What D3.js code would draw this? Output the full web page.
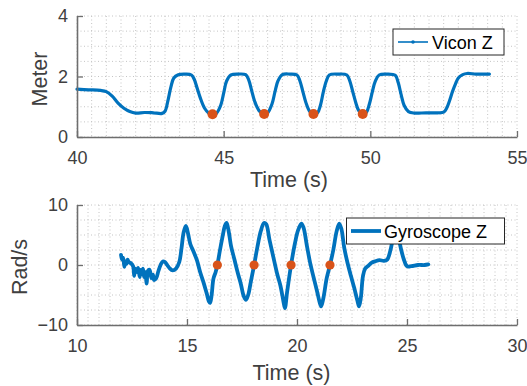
<!DOCTYPE html>
<html>
<head>
<meta charset="utf-8">
<script src="https://cdn.jsdelivr.net/npm/d3@7"></script>
<style>
  html, body { margin: 0; padding: 0; background: #fff; }
  svg { display: block; }
  text { font-family: "Liberation Sans", Arial, Helvetica, sans-serif; }
</style>
</head>
<body>
<svg id="chart" width="527" height="386"></svg>
<script>
// ---------- Top panel data: Vicon Z ----------
const viconTime = [40.0,40.4,40.8,41.0,41.2,41.4,41.6,41.8,42.0,42.3,42.6,42.9,43.0,43.1,43.2,43.3,43.45,43.7,43.9,44.0,44.1,44.2,44.35,44.5,44.62,44.75,44.9,45.0,45.1,45.25,45.5,45.75,45.85,45.95,46.05,46.2,46.38,46.5,46.65,46.75,46.85,47.0,47.25,47.5,47.6,47.7,47.8,47.93,48.06,48.2,48.3,48.4,48.5,48.6,48.9,49.2,49.3,49.4,49.5,49.6,49.74,49.87,49.97,50.07,50.17,50.3,50.55,50.85,50.95,51.05,51.15,51.3,51.5,51.9,52.3,52.5,52.6,52.7,52.8,52.9,53.0,53.15,53.3,53.6,54.06];
const viconZ    = [1.58,1.56,1.54,1.50,1.35,1.12,0.95,0.84,0.79,0.81,0.80,0.78,0.85,1.20,1.65,1.95,2.06,2.08,2.05,1.90,1.60,1.30,0.95,0.78,0.74,0.78,1.05,1.45,1.85,2.05,2.08,2.06,1.90,1.55,1.20,0.88,0.75,0.80,1.10,1.50,1.85,2.06,2.08,2.05,1.85,1.50,1.15,0.85,0.75,0.80,1.05,1.50,1.85,2.05,2.08,2.05,1.85,1.50,1.15,0.88,0.75,0.82,1.10,1.50,1.85,2.05,2.08,2.04,1.80,1.40,1.05,0.84,0.79,0.80,0.80,0.82,0.95,1.20,1.50,1.75,1.95,2.06,2.10,2.08,2.08];
const viconMarkTime = [44.62, 46.38, 48.06, 49.74];
const viconMarkZ    = [0.75, 0.76, 0.76, 0.76];
const topXTicks = [40, 45, 50, 55];
const topYTicks = [0, 2, 4];

// ---------- Bottom panel data: Gyroscope Z ----------
const gyroTime = [12.0,12.05,12.1,12.15,12.2,12.25,12.3,12.35,12.45,12.55,12.6,12.65,12.72,12.78,12.85,12.9,12.95,13.0,13.05,13.1,13.17,13.22,13.3,13.38,13.45,13.5,13.6,13.7,13.8,13.9,14.0,14.1,14.2,14.35,14.5,14.65,14.75,14.85,14.95,15.05,15.15,15.3,15.45,15.6,15.75,15.9,16.0,16.05,16.12,16.2,16.3,16.38,16.5,16.62,16.72,16.8,16.9,17.0,17.15,17.3,17.45,17.58,17.68,17.78,17.9,18.05,18.2,18.35,18.5,18.6,18.75,18.92,19.1,19.25,19.38,19.45,19.55,19.73,19.9,20.05,20.2,20.3,20.45,20.6,20.75,20.9,21.05,21.1,21.2,21.35,21.5,21.65,21.8,21.92,22.02,22.15,22.3,22.45,22.6,22.75,22.82,22.9,23.0,23.1,23.25,23.4,23.55,23.75,23.95,24.1,24.25,24.4,24.5,24.6,24.72,24.85,25.0,25.2,25.5,25.8,25.97];
const gyroZ    = [1.7,0.9,1.2,-0.3,0.6,0.2,0.9,0.5,0.3,-0.2,-1.8,-0.6,-1.2,-0.5,-2.0,-0.8,-1.5,-0.6,-2.0,-1.2,-3.1,-1.0,-0.8,-2.2,-1.6,-2.5,-2.2,-1.0,0.0,0.6,0.5,0.0,-0.5,-0.9,-0.6,0.5,2.8,5.5,6.5,5.2,3.5,2.2,0.8,-1.2,-2.9,-4.8,-6.1,-6.3,-5.0,-2.3,-1.2,0.0,2.5,4.8,6.5,7.0,5.5,3.2,1.0,-1.2,-3.2,-5.2,-5.8,-5.0,-2.8,0.0,3.0,5.6,7.0,6.8,4.2,1.4,-1.5,-3.5,-6.0,-7.2,-4.5,0.0,3.5,5.8,6.9,6.2,3.2,0.3,-2.0,-4.2,-6.5,-6.9,-5.5,-2.2,0.0,2.5,5.6,6.9,6.0,2.8,0.3,-1.8,-3.8,-6.0,-6.9,-5.5,-1.8,-0.6,-0.1,0.4,0.6,0.8,0.7,0.9,2.5,5.0,5.8,4.8,2.8,1.0,-0.2,-0.2,0.0,0.0,0.1];
const gyroMarkTime = [16.38, 18.05, 19.73, 21.5];
const gyroMarkZ    = [0, 0, 0, 0];
const botXTicks = [10, 15, 20, 25, 30];
const botYTicks = [-10, 0, 10];

const BLUE = "#0072BD", ORANGE = "#D95319";
const svg = d3.select("#chart");

function panel(cfg) {
  const x = d3.scaleLinear().domain(cfg.xDomain).range([77, 517]);
  const y = d3.scaleLinear().domain(cfg.yDomain).range([cfg.bottom, cfg.top]);
  const g = svg.append("g");

  // grid (minor + major, dotted)
  const gx = d3.range(cfg.xDomain[0], cfg.xDomain[1] + 1e-9, cfg.xMinor);
  const gy = d3.range(cfg.yDomain[0], cfg.yDomain[1] + 1e-9, cfg.yMinor);
  g.append("g").selectAll("line").data(gx).join("line")
    .attr("x1", d => x(d)).attr("x2", d => x(d))
    .attr("y1", cfg.top).attr("y2", cfg.bottom)
    .attr("stroke", "#c4c4c4").attr("stroke-width", 1)
    .attr("stroke-dasharray", "1,2.5");
  g.append("g").selectAll("line").data(gy).join("line")
    .attr("x1", 77).attr("x2", 517)
    .attr("y1", d => y(d)).attr("y2", d => y(d))
    .attr("stroke", "#c4c4c4").attr("stroke-width", 1)
    .attr("stroke-dasharray", "1,2.5");

  // data line
  const pts = cfg.t.map((d, i) => [d, cfg.v[i]]);
  g.append("path").datum(pts)
    .attr("fill", "none").attr("stroke", BLUE)
    .attr("stroke-width", cfg.lw).attr("stroke-linejoin", "round").attr("stroke-linecap", "round")
    .attr("d", d3.line().x(d => x(d[0])).y(d => y(d[1])).curve(cfg.curve));

  // markers
  g.append("g").selectAll("circle").data(cfg.mt.map((d, i) => [d, cfg.mv[i]])).join("circle")
    .attr("cx", d => x(d[0])).attr("cy", d => y(d[1])).attr("r", cfg.mr)
    .attr("fill", ORANGE);

  // axes
  const fmt = d3.format("d");
  const xAxis = d3.axisBottom(x).tickValues(cfg.xTicks).tickFormat(fmt).tickSize(-6).tickPadding(14).tickSizeOuter(0);
  const ax = g.append("g").attr("transform", `translate(0,${cfg.bottom})`).call(xAxis);
  const yAxis = d3.axisLeft(y).tickValues(cfg.yTicks).tickFormat(fmt).tickSize(-6).tickPadding(9).tickSizeOuter(0);
  const ay = g.append("g").attr("transform", `translate(77,0)`).call(yAxis);
  [ax, ay].forEach(a => {
    a.select(".domain").attr("stroke", "#6e6e6e").attr("stroke-width", 1.6);
    a.selectAll(".tick line").attr("stroke", "#6e6e6e").attr("stroke-width", 1.3);
    a.selectAll(".tick text").attr("fill", "#404040").attr("font-size", 18)
      .attr("font-family", '"Liberation Sans", Arial, sans-serif');
  });
  ax.selectAll(".tick text").attr("dy", "0.71em");

  // labels
  g.append("text").attr("x", cfg.xlabX).attr("y", cfg.xlabY)
    .attr("text-anchor", "middle").attr("font-size", 21.5).attr("fill", "#404040")
    .text("Time (s)");
  g.append("text").attr("transform", `translate(${cfg.ylabX},${cfg.ylabY}) rotate(-90)`)
    .attr("text-anchor", "middle").attr("font-size", 21.5).attr("fill", "#404040")
    .text(cfg.ylab);

  // legend
  const L = cfg.legend;
  const lg = g.append("g");
  lg.append("rect").attr("x", L.x0).attr("y", L.y0).attr("width", L.x1 - L.x0).attr("height", L.y1 - L.y0)
    .attr("fill", "#fff").attr("stroke", "#262626").attr("stroke-width", 1);
  const ly = (L.y0 + L.y1) / 2;
  lg.append("line").attr("x1", L.lx0).attr("x2", L.lx1).attr("y1", ly).attr("y2", ly)
    .attr("stroke", BLUE).attr("stroke-width", L.lw);
  if (L.dot) lg.append("circle").attr("cx", (L.lx0 + L.lx1) / 2).attr("cy", ly).attr("r", 1.8).attr("fill", BLUE);
  lg.append("text").attr("x", L.tx).attr("y", ly + 6.5).attr("font-size", 18).attr("fill", "#000")
    .text(L.label);
}

panel({
  xDomain: [40, 55], yDomain: [0, 4], top: 16, bottom: 137,
  xMinor: 0.5, yMinor: 0.5, xTicks: topXTicks, yTicks: topYTicks,
  t: viconTime, v: viconZ, lw: 3.2, curve: d3.curveCatmullRom.alpha(0.5),
  mt: viconMarkTime, mv: viconMarkZ, mr: 5,
  xlabX: 289, xlabY: 186.5, ylab: "Meter", ylabX: 46.5, ylabY: 79,
  legend: { x0: 393, x1: 504, y0: 29, y1: 55, lx0: 398, lx1: 428, lw: 1.6, dot: true, tx: 432, label: "Vicon Z" }
});

panel({
  xDomain: [10, 30], yDomain: [-10, 10], top: 205, bottom: 325,
  xMinor: 0.5, yMinor: 2.5, xTicks: botXTicks, yTicks: botYTicks,
  t: gyroTime, v: gyroZ, lw: 3.8, curve: d3.curveCatmullRom.alpha(0.5),
  mt: gyroMarkTime, mv: gyroMarkZ, mr: 4.6,
  xlabX: 291.5, xlabY: 380, ylab: "Rad/s", ylabX: 27, ylabY: 267,
  legend: { x0: 346.5, x1: 504.5, y0: 218, y1: 244, lx0: 351, lx1: 381, lw: 3.8, dot: false, tx: 384, label: "Gyroscope Z" }
});
</script>
</body>
</html>
